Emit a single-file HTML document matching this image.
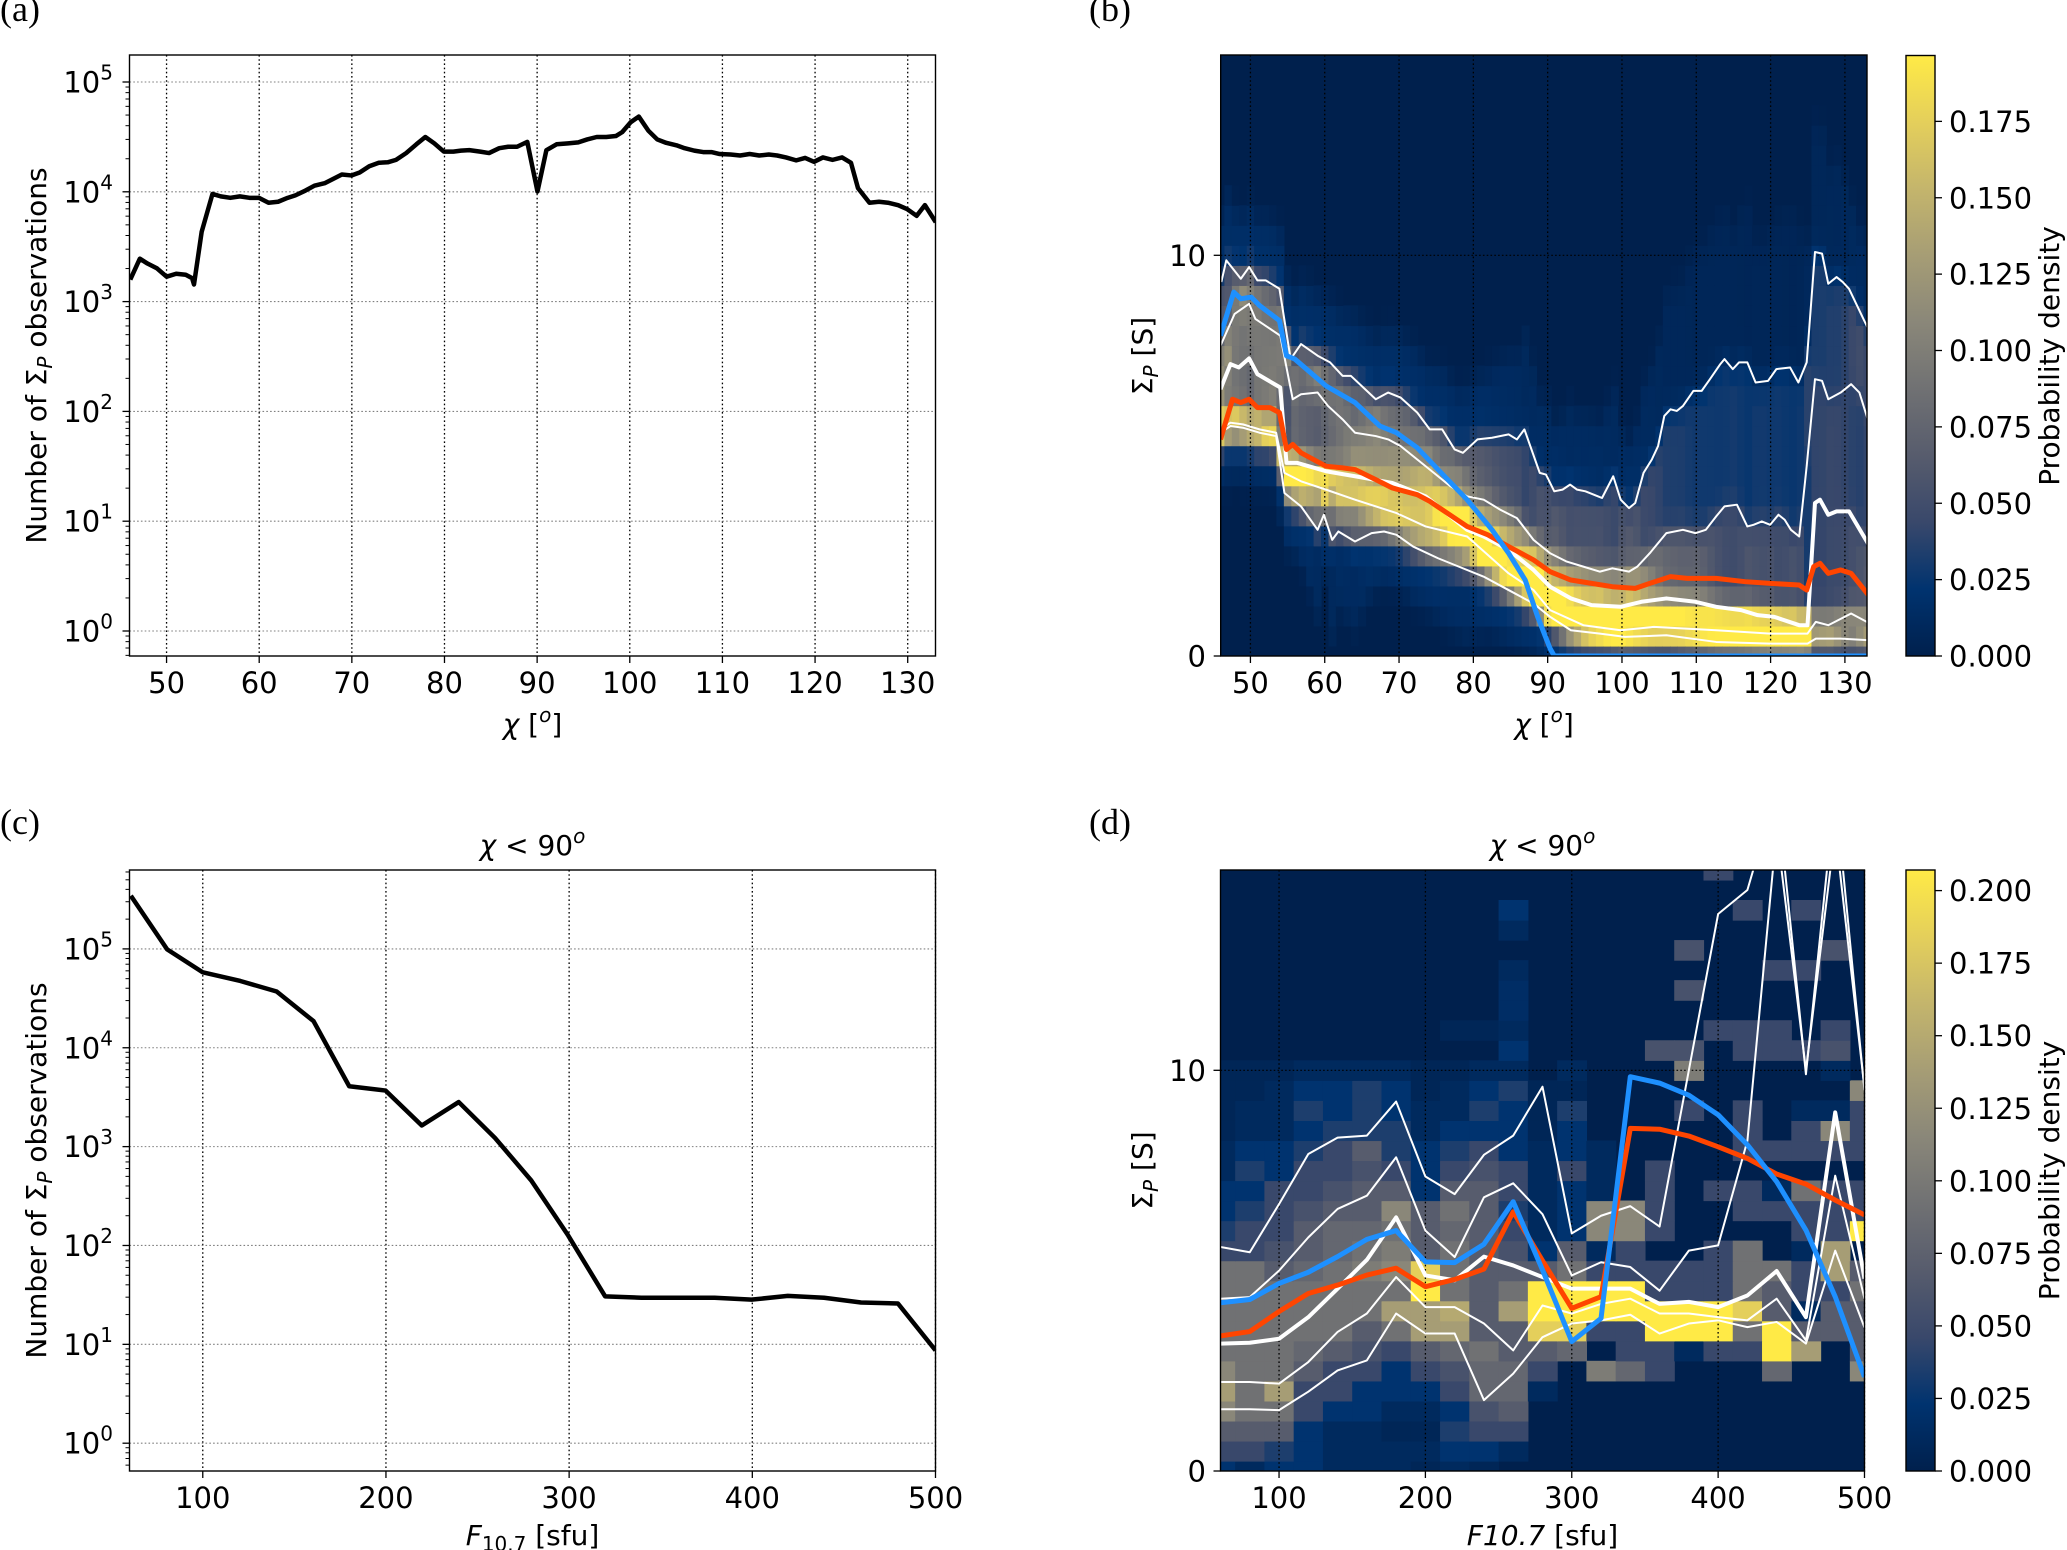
<!DOCTYPE html>
<html><head><meta charset="utf-8">
<style>
html,body{margin:0;padding:0;background:#fff;}
svg{display:block;}
text{font-family:"DejaVu Sans","Liberation Sans",sans-serif;fill:#000;}
.t{font-size:29px;}
.lab{font-size:28px;}
.pl{font-family:"Liberation Serif","DejaVu Serif",serif;font-size:36px;}
.it{font-style:italic;}
</style></head><body>
<svg id="s" width="2067" height="1550" viewBox="0 0 2067 1550" xmlns="http://www.w3.org/2000/svg">
<defs>
 <clipPath id="ca"><rect x="129.5" y="55" width="806" height="601"/></clipPath>
 <clipPath id="cb"><rect x="1220.7" y="55" width="646.3" height="601"/></clipPath>
 <clipPath id="cc"><rect x="129.5" y="870" width="806" height="601"/></clipPath>
 <clipPath id="cd"><rect x="1220.5" y="870" width="644" height="601"/></clipPath>
 <linearGradient id="cv" x1="0" y1="1" x2="0" y2="0">
  <stop offset="0" stop-color="#00204D"/><stop offset="0.1111" stop-color="#00336F"/>
  <stop offset="0.2222" stop-color="#39486B"/><stop offset="0.3333" stop-color="#575C6D"/>
  <stop offset="0.4444" stop-color="#707173"/><stop offset="0.5556" stop-color="#8A8779"/>
  <stop offset="0.6667" stop-color="#A69D75"/><stop offset="0.7778" stop-color="#C4B56C"/>
  <stop offset="0.8889" stop-color="#E4CF5B"/><stop offset="1" stop-color="#FFEA46"/>
 </linearGradient>
</defs>
<rect x="0" y="0" width="2067" height="1550" fill="#fff"/>
<!-- heatmap backgrounds -->
<rect x="1220.7" y="55" width="646.3" height="601" fill="#00204D"/>
<rect x="1220.5" y="870" width="644" height="601" fill="#00204D"/>
<g id="hb" clip-path="url(#cb)"></g>
<g id="hd" clip-path="url(#cd)"></g>
<g id="grid"></g>

<!-- (a) line -->
<g clip-path="url(#ca)">
<polyline transform="matrix(0.63723,0,0,0.4867,0.92,-1.71)" vector-effect="non-scaling-stroke" fill="none" stroke="#000" stroke-width="4.5" stroke-linejoin="round"
points="203,578 218,535 230,545 245,555 260,572 275,566 290,568 300,575 303,588 315,480 332,402 345,407 360,410 375,407 390,410 405,410 420,420 435,418 450,410 462,405 478,395 492,385 508,380 520,372 535,362 550,364 563,358 578,345 593,338 607,337 620,332 636,318 652,300 666,285 680,298 695,315 710,315 722,313 735,312 752,315 766,318 782,308 796,305 810,305 826,295 842,397 856,312 872,300 890,298 906,296 920,290 935,285 950,285 965,283 975,275 988,255 1001,243 1016,272 1030,290 1044,297 1060,302 1073,308 1088,313 1102,316 1115,316 1128,320 1145,321 1160,323 1175,320 1190,323 1205,321 1218,323 1232,327 1248,333 1262,328 1276,336 1290,327 1305,332 1320,327 1334,338 1345,390 1363,420 1378,418 1392,420 1408,425 1422,433 1437,447 1450,425 1467,460"/>
</g>

<!-- (c) line -->
<g clip-path="url(#cc)">
<polyline transform="matrix(0.63658,0,0,0.47851,1.64,800.1)" vector-effect="non-scaling-stroke" fill="none" stroke="#000" stroke-width="4.5" stroke-linejoin="round"
points="203,200 260,312 316,360 375,378 432,400 490,462 546,598 603,607 660,680 718,631 775,706 832,795 890,910 948,1037 1005,1040 1062,1040 1120,1040 1178,1044 1235,1036 1292,1040 1350,1050 1408,1052 1467,1150"/>
</g>

<!-- (b) lines -->
<g clip-path="url(#cb)">
<g transform="matrix(0.41515,0,0,0.33475,1218.0,198.4)" fill="none" stroke-linejoin="round">
<polyline id="b95" vector-effect="non-scaling-stroke" stroke="#fff" stroke-width="2"
points="8,250 20,185 55,240 75,205 95,245 115,245 148,270 175,480 200,435 240,470 270,490 300,530 320,530 380,600 410,580 440,595 480,640 510,690 540,690 570,750 590,760 625,720 660,715 700,705 720,720 738,690 775,820 790,825 810,875 830,870 848,855 865,870 885,875 915,890 925,895 952,830 970,900 990,925 1005,910 1025,820 1045,780 1060,740 1075,650 1090,630 1105,635 1120,620 1145,575 1165,575 1185,540 1210,495 1220,480 1240,510 1255,490 1275,490 1295,550 1325,545 1345,510 1378,505 1398,550 1418,490 1438,160 1455,165 1470,255 1490,235 1505,250 1520,270 1570,400"/>
<polyline id="b75" vector-effect="non-scaling-stroke" stroke="#fff" stroke-width="2"
points="6,440 40,345 75,315 90,360 150,410 180,600 200,585 240,580 265,620 300,660 330,700 380,710 410,720 440,740 480,780 520,820 560,860 600,890 640,900 680,930 720,955 760,1020 800,1060 840,1085 880,1100 920,1115 950,1105 990,1115 1010,1100 1040,1060 1080,1000 1120,990 1150,1000 1175,990 1200,950 1220,920 1250,915 1275,980 1290,975 1310,965 1330,975 1350,945 1365,960 1380,990 1400,1010 1418,800 1438,540 1455,545 1470,600 1500,580 1525,555 1545,580 1570,680"/>
<polyline id="b25" vector-effect="non-scaling-stroke" stroke="#fff" stroke-width="2"
points="6,690 30,670 60,675 100,690 140,700 160,820 200,845 260,870 330,900 430,940 500,980 600,1010 700,1120 760,1170 800,1230 880,1275 970,1290 1050,1280 1200,1290 1330,1300 1420,1300 1440,1265 1470,1275 1525,1240 1570,1270"/>
<polyline id="b05" vector-effect="non-scaling-stroke" stroke="#fff" stroke-width="2"
points="6,700 30,680 60,685 100,700 140,710 160,880 200,920 240,990 255,945 275,1020 290,995 330,1025 370,1000 400,995 430,1005 470,1040 530,1075 580,1100 640,1130 700,1170 760,1210 800,1250 850,1290 920,1300 980,1310 1080,1305 1200,1325 1330,1330 1420,1330 1440,1315 1500,1315 1570,1320"/>
<polyline id="b50" vector-effect="non-scaling-stroke" stroke="#fff" stroke-width="4"
points="6,570 30,495 50,505 75,478 95,525 150,565 165,790 190,790 260,815 330,830 420,850 460,870 500,890 560,950 600,990 640,1010 700,1050 760,1110 800,1160 850,1195 900,1215 970,1220 1020,1205 1080,1195 1150,1205 1200,1220 1260,1230 1300,1245 1340,1250 1400,1275 1420,1275 1438,910 1450,900 1470,945 1490,935 1520,935 1570,1040"/>
<polyline vector-effect="non-scaling-stroke" stroke="#FF4500" stroke-width="5"
points="6,720 35,600 55,610 75,600 95,625 125,625 148,640 165,750 180,735 200,760 260,800 300,805 330,810 380,840 420,865 480,885 510,905 540,930 600,980 650,1005 700,1040 760,1080 800,1115 850,1140 900,1150 950,1160 1005,1165 1040,1150 1090,1130 1130,1135 1200,1135 1270,1145 1330,1150 1400,1155 1418,1170 1435,1100 1450,1090 1470,1120 1500,1110 1525,1120 1570,1190"/>
<polyline vector-effect="non-scaling-stroke" stroke="#1E90FF" stroke-width="5"
points="6,410 38,280 55,300 80,295 100,320 148,365 165,470 185,480 260,560 330,610 390,680 430,700 480,745 530,810 600,900 660,990 700,1060 740,1140 770,1250 800,1345 810,1367 1570,1367"/>
</g>
</g>

<!-- (d) lines -->
<g clip-path="url(#cd)">
<g transform="matrix(1.4636,0,0,-40.07,1132.68,1471)" fill="none" stroke-linejoin="round">
<polyline vector-effect="non-scaling-stroke" stroke="#fff" stroke-width="2" points="60,5.59 80,5.46 100,6.66 120,7.91 140,8.32 160,8.37 180,9.22 200,7.35 220,6.91 240,7.89 260,8.37 280,9.59 300,5.93 320,6.37 340,6.61 360,6.1 380,10.0 400,13.9 420,14.5 440,17 460,9.9 480,17 500,9.5"/>
<polyline vector-effect="non-scaling-stroke" stroke="#fff" stroke-width="2" points="60,4.3 80,4.34 100,5.0 120,5.83 140,6.54 160,6.87 180,7.83 200,6.0 220,5.34 240,6.83 260,7.18 280,6.41 300,4.88 320,5.21 340,5.09 360,4.5 380,5.5 400,5.63 420,8.24 440,16 460,10 480,16 500,9.56"/>
<polyline vector-effect="non-scaling-stroke" stroke="#fff" stroke-width="2" points="60,2.22 80,2.22 100,2.18 120,2.72 140,3.47 160,3.93 180,4.84 200,4.09 220,4.09 240,3.68 260,3.01 280,4.13 300,3.93 320,4.17 340,4.3 360,3.93 380,3.93 400,3.84 420,3.76 440,4.3 460,3.26 480,7.37 500,4.3"/>
<polyline vector-effect="non-scaling-stroke" stroke="#fff" stroke-width="2" points="60,1.54 80,1.54 100,1.52 120,1.98 140,2.51 160,2.76 180,3.93 200,3.43 220,3.43 240,1.77 260,2.43 280,3.34 300,3.68 320,3.76 340,3.9 360,3.43 380,3.68 400,3.76 420,3.59 440,3.72 460,3.18 480,5.5 500,3.58"/>
<polyline vector-effect="non-scaling-stroke" stroke="#fff" stroke-width="4" points="60,3.18 80,3.2 100,3.3 120,3.84 140,4.55 160,5.27 180,6.33 200,4.88 220,4.76 240,5.35 260,5.13 280,4.84 300,4.55 320,4.55 340,4.55 360,4.17 380,4.22 400,4.09 420,4.38 440,4.99 460,3.84 480,8.95 500,4.8"/>
<polyline vector-effect="non-scaling-stroke" stroke="#FF4500" stroke-width="5" points="60,3.37 80,3.48 100,3.98 120,4.43 140,4.64 160,4.89 180,5.06 200,4.6 220,4.78 240,5.04 260,6.47 280,5.25 300,4.06 320,4.35 340,8.55 360,8.53 380,8.36 400,8.09 420,7.8 440,7.41 460,7.16 480,6.76 500,6.39"/>
<polyline vector-effect="non-scaling-stroke" stroke="#1E90FF" stroke-width="5" points="60,4.20 80,4.28 100,4.68 120,4.96 140,5.35 160,5.78 180,6.0 200,5.22 220,5.2 240,5.66 260,6.72 280,5.02 300,3.23 320,3.81 340,9.84 360,9.68 380,9.38 400,8.89 420,8.14 440,7.22 460,6.01 480,4.35 500,2.35"/>
</g>
</g>

<g id="ticks"></g>

<!-- spines -->
<g fill="none" stroke="#000" stroke-width="1.4">
<rect x="129.5" y="55" width="806" height="601"/>
<rect x="1220.7" y="55" width="646.3" height="601"/>
<rect x="129.5" y="870" width="806" height="601"/>
<rect x="1220.5" y="870" width="644" height="601"/>
</g>
<!-- colorbars -->
<rect x="1906" y="55.5" width="29" height="600.5" fill="url(#cv)" stroke="#000" stroke-width="1.4"/>
<rect x="1906" y="870" width="29" height="601" fill="url(#cv)" stroke="#000" stroke-width="1.4"/>

<!-- panel labels -->
<text class="pl" x="0" y="21">(a)</text>
<text class="pl" x="1089" y="21">(b)</text>
<text class="pl" x="0" y="834">(c)</text>
<text class="pl" x="1089" y="834">(d)</text>

<!-- (a) tick labels -->
<g class="t" text-anchor="middle">
<text x="166.6" y="693">50</text><text x="259.2" y="693">60</text><text x="351.8" y="693">70</text>
<text x="444.5" y="693">80</text><text x="537.1" y="693">90</text><text x="629.8" y="693">100</text>
<text x="722.4" y="693">110</text><text x="815.1" y="693">120</text><text x="907.7" y="693">130</text>
</g>
<g class="t" text-anchor="end">
<text x="113" y="92.5">10<tspan font-size="20" dy="-13">5</tspan></text>
<text x="113" y="202.3">10<tspan font-size="20" dy="-13">4</tspan></text>
<text x="113" y="312.1">10<tspan font-size="20" dy="-13">3</tspan></text>
<text x="113" y="421.9">10<tspan font-size="20" dy="-13">2</tspan></text>
<text x="113" y="531.7">10<tspan font-size="20" dy="-13">1</tspan></text>
<text x="113" y="641.5">10<tspan font-size="20" dy="-13">0</tspan></text>
</g>
<text class="lab" x="532.5" y="734" text-anchor="middle"><tspan class="it">χ</tspan> [<tspan class="it" font-size="20" dy="-12">o</tspan><tspan dy="12">]</tspan></text>
<text class="lab" transform="translate(46,355.5) rotate(-90)" text-anchor="middle">Number of Σ<tspan class="it" font-size="20" dy="6">P</tspan><tspan dy="-6"> observations</tspan></text>

<!-- (b) tick labels -->
<g class="t" text-anchor="middle">
<text x="1250.4" y="693">50</text><text x="1324.7" y="693">60</text><text x="1399" y="693">70</text>
<text x="1473.4" y="693">80</text><text x="1547.7" y="693">90</text><text x="1622" y="693">100</text>
<text x="1696.3" y="693">110</text><text x="1770.6" y="693">120</text><text x="1844.9" y="693">130</text>
</g>
<g class="t" text-anchor="end">
<text x="1206" y="265.8">10</text>
<text x="1206" y="666.5">0</text>
</g>
<text class="lab" x="1544" y="734" text-anchor="middle"><tspan class="it">χ</tspan> [<tspan class="it" font-size="20" dy="-12">o</tspan><tspan dy="12">]</tspan></text>
<text class="lab" transform="translate(1152,356) rotate(-90)" text-anchor="middle">Σ<tspan class="it" font-size="20" dy="6">P</tspan><tspan dy="-6"> [S]</tspan></text>
<g class="t">
<text x="1949" y="666.5">0.000</text><text x="1949" y="590.1">0.025</text><text x="1949" y="513.8">0.050</text>
<text x="1949" y="437.4">0.075</text><text x="1949" y="361">0.100</text><text x="1949" y="284.6">0.125</text>
<text x="1949" y="208.3">0.150</text><text x="1949" y="131.9">0.175</text>
</g>
<text class="lab" transform="translate(2059,356) rotate(-90)" text-anchor="middle">Probability density</text>

<!-- (c) -->
<text class="lab" x="532.5" y="855" text-anchor="middle"><tspan class="it">χ</tspan> &lt; 90<tspan class="it" font-size="20" dy="-12">o</tspan></text>
<g class="t" text-anchor="middle">
<text x="202.8" y="1508">100</text><text x="385.9" y="1508">200</text><text x="569.1" y="1508">300</text>
<text x="752.3" y="1508">400</text><text x="935.5" y="1508">500</text>
</g>
<g class="t" text-anchor="end">
<text x="113" y="959.4">10<tspan font-size="20" dy="-13">5</tspan></text>
<text x="113" y="1058.3">10<tspan font-size="20" dy="-13">4</tspan></text>
<text x="113" y="1157.1">10<tspan font-size="20" dy="-13">3</tspan></text>
<text x="113" y="1256">10<tspan font-size="20" dy="-13">2</tspan></text>
<text x="113" y="1354.8">10<tspan font-size="20" dy="-13">1</tspan></text>
<text x="113" y="1453.7">10<tspan font-size="20" dy="-13">0</tspan></text>
</g>
<text class="lab" x="532.5" y="1545" text-anchor="middle"><tspan class="it">F</tspan><tspan font-size="20" dy="6">10.7</tspan><tspan dy="-6"> [sfu]</tspan></text>
<text class="lab" transform="translate(46,1170.5) rotate(-90)" text-anchor="middle">Number of Σ<tspan class="it" font-size="20" dy="6">P</tspan><tspan dy="-6"> observations</tspan></text>

<!-- (d) -->
<text class="lab" x="1542.5" y="855" text-anchor="middle"><tspan class="it">χ</tspan> &lt; 90<tspan class="it" font-size="20" dy="-12">o</tspan></text>
<g class="t" text-anchor="middle">
<text x="1279" y="1508">100</text><text x="1425.4" y="1508">200</text><text x="1571.8" y="1508">300</text>
<text x="1718.1" y="1508">400</text><text x="1864.5" y="1508">500</text>
</g>
<g class="t" text-anchor="end">
<text x="1206" y="1080.8">10</text>
<text x="1206" y="1481.5">0</text>
</g>
<text class="lab" x="1542.5" y="1545" text-anchor="middle"><tspan class="it">F10.7</tspan> [sfu]</text>
<text class="lab" transform="translate(1152,1170.5) rotate(-90)" text-anchor="middle">Σ<tspan class="it" font-size="20" dy="6">P</tspan><tspan dy="-6"> [S]</tspan></text>
<g class="t">
<text x="1949" y="1481.5">0.000</text><text x="1949" y="1409">0.025</text><text x="1949" y="1336.4">0.050</text>
<text x="1949" y="1263.9">0.075</text><text x="1949" y="1191.3">0.100</text><text x="1949" y="1118.8">0.125</text>
<text x="1949" y="1046.2">0.150</text><text x="1949" y="973.7">0.175</text><text x="1949" y="901.1">0.200</text>
</g>
<text class="lab" transform="translate(2059,1170.5) rotate(-90)" text-anchor="middle">Probability density</text>
</svg>

<script>
(function(){
var NS="http://www.w3.org/2000/svg";
function el(tag,a,p){var e=document.createElementNS(NS,tag);for(var k in a)e.setAttribute(k,a[k]);p.appendChild(e);return e;}
var ST=[[0,32,77],[0,51,111],[57,72,107],[87,92,109],[112,113,115],[138,135,121],[166,157,117],[196,181,108],[228,207,91],[255,234,70]];
function cv(t){t=Math.max(0,Math.min(1,t));var x=t*9,i=Math.min(8,Math.floor(x)),f=x-i,a=ST[i],b=ST[i+1];
 return "rgb("+Math.round(a[0]+(b[0]-a[0])*f)+","+Math.round(a[1]+(b[1]-a[1])*f)+","+Math.round(a[2]+(b[2]-a[2])*f)+")";}

/* ---------- heatmap (b) ---------- */
var Xb=function(c){return 1220.7+(c-46)*7.431;}, Yb=function(s){return 656-40.07*s;};
function rd(id){var p=document.getElementById(id).getAttribute('points').trim().split(/[\s,]+/).map(Number);var r=[];
 for(var i=0;i<p.length;i+=2)r.push([46+(0.41515*p[i]+1218-1220.7)/7.431,(656-(0.33475*p[i+1]+198.4))/40.07]);return r;}
function itp(a,x){if(x<=a[0][0])return a[0][1];if(x>=a[a.length-1][0])return a[a.length-1][1];
 for(var i=1;i<a.length;i++)if(x<=a[i][0]){var p=a[i-1],q=a[i];return p[1]+(q[1]-p[1])*(x-p[0])/(q[0]-p[0]);}return a[a.length-1][1];}
var Q=[rd('b05'),rd('b25'),rd('b50'),rd('b75'),rd('b95')];
var sig=0.28,U=[],W=[],ws=0;for(var k=-2;k<=2;k+=0.5){U.push(k*sig);var w=Math.exp(-0.5*k*k);W.push(w);ws+=w;}
var hb=document.getElementById('hb');
for(var c=46;c<=133;c++){
 var q=Q.map(function(a){return Math.max(0,itp(a,c));});
 q.sort(function(a,b){return a-b;});
 for(var i=1;i<5;i++)if(q[i]<q[i-1]+0.03)q[i]=q[i-1]+0.03;
 var d1=Math.max(1.2,2*(q[1]-q[0])),d2=Math.max(1.5,q[4]-q[3]);
 var xs=[q[0]-d1,q[0],q[1],q[2],q[3],q[4],q[4]+d2],ps=[0,.05,.25,.5,.75,.95,1];
 var F=function(x){if(x<=xs[0])return 0;if(x>=xs[6])return 1;for(var j=1;j<7;j++)if(x<=xs[j])return ps[j-1]+(ps[j]-ps[j-1])*(x-xs[j-1])/(xs[j]-xs[j-1]);return 1;};
 var Fs=function(x){var s=0;for(var j=0;j<U.length;j++)s+=W[j]*F(x-U[j]);return s/ws;};
 var x0=Xb(Math.max(46,c-0.5)),x1=Xb(Math.min(133,c+0.5));
 for(var r=0;r<=30;r++){
  var s=r*0.5,lo=(r==0)?-100:s-0.25,hi=s+0.25;
  var m=Fs(hi)-Fs(lo);var t=m/0.1964;
  if(t<0.004)continue;
  var yt=Yb(Math.min(15,hi)),yb=Yb(Math.max(0,lo));
  el('rect',{x:x0.toFixed(2),y:yt.toFixed(2),width:(x1-x0+0.6).toFixed(2),height:(yb-yt+0.6).toFixed(2),fill:cv(t)},hb);
 }
}

/* ---------- heatmap (d) ---------- */
var Xd=function(f){return 1220.5+(f-60)*1.4636;}, Yd=function(s){return 1471-40.07*s;};
var G=[
[1,0.5,1,1,0.5,0.5,0.5,0.3,0.5,0.3,0,0,0,0,0,0,0,0,0,0,0,0,0],
[2,2,1.5,1,0.5,0.5,0.5,0.5,1,1,0.5,0,0,0,0,0,0,0,0,0,0,0,0],
[3,3,3,1,0.5,0.5,0.3,0.3,1.5,2,2,0,0,0,0,0,0,0,0,0,0,0,0],
[5,4,4,2,1,1,0.5,0.5,1,2.5,3,0,0,0,0,0,0,0,0,0,0,0,0],
[6,4,6,2,2,1,1,1,2,3.5,3.5,0.5,0,0,0,0,0,0,0,0,0,0,0],
[5,4,4,3,2,2,1,2,2.5,3.5,3.5,2,0,4.5,3.5,2,0,0,0,3.5,0,0,5],
[4,4,4,3.5,3,2.5,2,3,3.5,4,3,3,3.5,0,2,2,0.5,2,2,9,6,0,3],
[4,4,4,4,4,3,4,6,6,3,3,8,8,2,2,9,9,9,4,9,3,3,3],
[4,4,4,4,4,4,6,6,6.5,3,6,9,9,9,9,9,9,9,8,3,0.5,3,3],
[4,4,4,4,4,4,4,9,4,3,4,9,9,9,9,2,2,2,4,3,2,2,4],
[4,4,3,3.5,4,4.5,5,8,4,3,3,3,4,2,2,2,2,2,4,4,2,6,3],
[2,2,2.5,3,3.5,4,4.5,3,4,3,2.5,1,3,0.5,2,0,0,2,4,0,0.5,6,0],
[1.5,2,2,3,3.5,3.5,4,3,3.5,3,2,0.5,1,5,5,2,0,0,0,0,2,2,9],
[1,1.5,2,2.5,3,3,5,3,4,3,1.5,0.5,1,5,5,2,0,0,2,2,2,2,2],
[1,1,2,2,2.5,3,3,1,3,3,2,0.5,1,0.5,0,2,0,2,2,0.5,4,2,2],
[0.5,1.5,1,2,2,2.5,2,1,2,2.5,2,0.5,2,0.5,0,2,0,0,0,0,0,0,0],
[0.5,1,1,1.5,2,3,1.5,1,1.5,2,1,0.5,1,0.5,0,0,0,0,2,2,2,2,2],
[0.3,0.5,0.5,1,1.5,1.5,1.5,0.5,1,1,1,0.3,1,0,0,0,0,0,2,0,2,5,2],
[0.3,0.5,0.5,1.5,1,1.5,1,0.5,0.5,1.5,1,0.3,1.5,0,0,0,2,0,2,0,0.5,0.5,2],
[0.3,0.3,0.5,1,1,1.5,1,0.3,0.5,1,1.5,0.3,0.3,0,0,0,0,0,0,0,0,0,5],
[0.3,0.3,0.3,0.5,0.5,0.5,0.5,0.3,0.3,0.5,0.5,0,0.5,0,0,0,4.5,0,0,0,0,0.5,0],
[0,0,0,0,0,0,0,0,0,0,1,0,0,0,0,2.5,2.5,0,2,2,2,2.5,0],
[0,0,0,0,0,0,0,0,0.3,0.3,0.5,0,0,0,0,0,0,2,2,2,0,2,0],
[0,0,0,0,0,0,0,0,0,0,0.7,0,0,0,0,0,0,0,0,0,0,0,0],
[0,0,0,0,0,0,0,0,0,0,0.7,0,0,0,0,0,2.5,0,0,0,0,0,0],
[0,0,0,0,0,0,0,0,0,0,0.5,0,0,0,0,0,0,0,0,2,2,0,0],
[0,0,0,0,0,0,0,0,0,0,0,0,0,0,0,0,2.5,0,0,0,0,2.5,0],
[0,0,0,0,0,0,0,0,0,0,0.5,0,0,0,0,0,0,0,0,0,0,0,0],
[0,0,0,0,0,0,0,0,0,0,1,0,0,0,0,0,0,0,2,0,2,0,0],
[0,0,0,0,0,0,0,0,0,0,0,0,0,0,0,0,0,0,0,0,0,0,0],
[0,0,0,0,0,0,0,0,0,0,0,0,0,0,0,0,0,2,0,0,0,0,0]];
var hd=document.getElementById('hd');
for(var r=0;r<G.length;r++){var s=r*0.5;
 for(var k=0;k<23;k++){var v=G[r][k];if(v<=0)continue;var f=60+20*k;
  var x0=Xd(Math.max(60,f-10)),x1=Xd(Math.min(500,f+10));
  var yt=Yd(Math.min(15,s+0.25)),yb=Yd(Math.max(0,s-0.25));
  el('rect',{x:x0.toFixed(2),y:yt.toFixed(2),width:(x1-x0+0.6).toFixed(2),height:(yb-yt+0.6).toFixed(2),fill:cv(v/9)},hd);}}

/* ---------- grid & ticks ---------- */
var gr=document.getElementById('grid'),tk=document.getElementById('ticks');
function ln(p,x1,y1,x2,y2,st,w,da){var a={x1:x1,y1:y1,x2:x2,y2:y2,stroke:st,'stroke-width':w};if(da)a['stroke-dasharray']=da;el('line',a,p);}
var VD="1.6 2.6",HD="1.6 2.2";
// (a)
for(var c=50;c<=130;c+=10){var x=129.5+(c-46)*9.2644;ln(gr,x,55,x,656,"#000",1.3,VD);ln(tk,x,656,x,663,"#000",1.3);}
for(var k=0;k<=5;k++){var y=631-109.8*k;ln(gr,129.5,y,935.5,y,"#808080",1.1,HD);ln(tk,122.5,y,129.5,y,"#000",1.3);}
for(var k=-1;k<=5;k++)for(var m=2;m<=9;m++){var y=631-109.8*(k+Math.log10(m));if(y>55.5&&y<655.5)ln(tk,125.5,y,129.5,y,"#000",1);}
// (c)
for(var f=100;f<=500;f+=100){var x=129.5+(f-60)*1.8318;ln(gr,x,870,x,1471,"#000",1.3,VD);ln(tk,x,1471,x,1478,"#000",1.3);}
for(var k=0;k<=5;k++){var y=1443.2-98.86*k;ln(gr,129.5,y,935.5,y,"#808080",1.1,HD);ln(tk,122.5,y,129.5,y,"#000",1.3);}
for(var k=-1;k<=5;k++)for(var m=2;m<=9;m++){var y=1443.2-98.86*(k+Math.log10(m));if(y>870.5&&y<1470.5)ln(tk,125.5,y,129.5,y,"#000",1);}
// (b)
for(var c=50;c<=130;c+=10){var x=Xb(c);ln(gr,x,55,x,656,"#000",1.3,VD);ln(tk,x,656,x,663,"#000",1.3);}
ln(gr,1220.7,Yb(10),1867,Yb(10),"#000",1.1,HD);
ln(tk,1213.7,Yb(10),1220.7,Yb(10),"#000",1.3);ln(tk,1213.7,656,1220.7,656,"#000",1.3);
// (d)
for(var f=100;f<=500;f+=100){var x=Xd(f);ln(gr,x,870,x,1471,"#000",1.3,VD);ln(tk,x,1471,x,1478,"#000",1.3);}
ln(gr,1220.5,Yd(10),1864.5,Yd(10),"#000",1.1,HD);
ln(tk,1213.5,Yd(10),1220.5,Yd(10),"#000",1.3);ln(tk,1213.5,1471,1220.5,1471,"#000",1.3);
// colorbar ticks
for(var i=0;i<=7;i++){var y=656-i*0.025*3055;ln(tk,1935,y,1942,y,"#000",1.3);}
for(var i=0;i<=8;i++){var y=1471-i*0.025*2902;ln(tk,1935,y,1942,y,"#000",1.3);}
})();
</script>
</body></html>
